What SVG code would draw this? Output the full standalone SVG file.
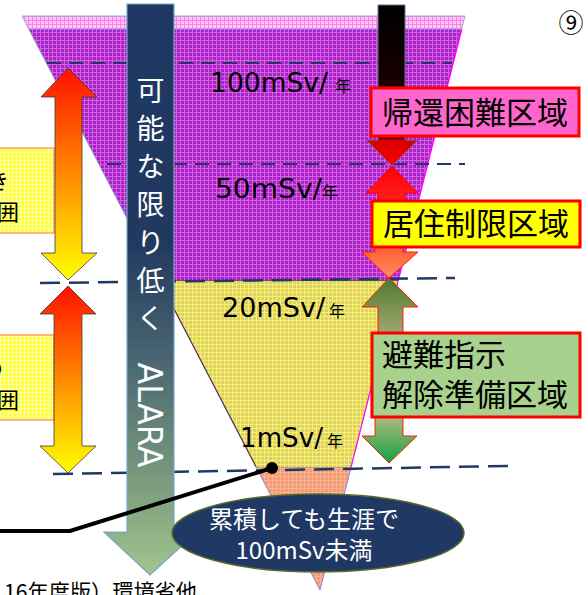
<svg xmlns="http://www.w3.org/2000/svg" width="588" height="595" viewBox="0 0 588 595">
<style>
.dash1{fill:none;stroke:#1f3864;stroke-width:2;stroke-dasharray:14 8}
.dash2{fill:none;stroke:#1f3864;stroke-width:2.5;stroke-dasharray:20 9}
.val{font-family:"DejaVu Sans",sans-serif;font-size:27px;fill:#000}
.yr{font-family:"Noto Sans CJK JP",sans-serif;font-size:16px;fill:#000}
.box{stroke:#ff0000;stroke-width:3}
.boxt{font-family:"Noto Sans CJK JP",sans-serif;font-size:31px;fill:#000}
.vt{font-family:"Noto Sans CJK JP",sans-serif;font-size:28px;fill:#fff;text-anchor:middle}
.ell{font-family:"Noto Sans CJK JP",sans-serif;font-size:24px;fill:#fff;text-anchor:middle}
.lt{font-family:"Noto Sans CJK JP",sans-serif;font-size:22px;fill:#000}
</style>
<defs>
<pattern id="pPurple" width="4" height="4" patternUnits="userSpaceOnUse"><rect width="4" height="4" fill="#aa22c8"/><path d="M0 .5H4M.5 0V4" stroke="#d260e2" stroke-width="1"/></pattern>
<pattern id="pPink" width="4" height="4" patternUnits="userSpaceOnUse"><rect width="4" height="4" fill="#ffc6f6"/><path d="M0 .5H4M.5 0V4" stroke="#ff7ee8" stroke-width="1"/></pattern>
<pattern id="pYellow" width="4" height="4" patternUnits="userSpaceOnUse"><rect width="4" height="4" fill="#dbcf70"/><path d="M0 .5H4M.5 0V4" stroke="#f8f260" stroke-width="1"/></pattern>
<pattern id="pOrange" width="4" height="4" patternUnits="userSpaceOnUse"><rect width="4" height="4" fill="#f39a73"/><path d="M0 .5H4M.5 0V4" stroke="#f7b595" stroke-width="1"/></pattern>
<pattern id="pBox" width="4" height="4" patternUnits="userSpaceOnUse"><rect width="4" height="4" fill="#ffff40"/><path d="M0 .5H4M.5 0V4" stroke="#ffffa8" stroke-width="1"/></pattern>
<linearGradient id="gUp1" gradientUnits="userSpaceOnUse" x1="0" y1="68" x2="0" y2="280"><stop offset="0" stop-color="#ff1000"/><stop offset="0.5" stop-color="#ff8a00"/><stop offset="1" stop-color="#ffff00"/></linearGradient>
<linearGradient id="gUp2" gradientUnits="userSpaceOnUse" x1="0" y1="286" x2="0" y2="473"><stop offset="0" stop-color="#ff1000"/><stop offset="0.5" stop-color="#ff8a00"/><stop offset="1" stop-color="#ffff00"/></linearGradient>
<linearGradient id="gBar" gradientUnits="userSpaceOnUse" x1="0" y1="4" x2="0" y2="575"><stop offset="0" stop-color="#1f3864"/><stop offset="0.42" stop-color="#21395f"/><stop offset="0.65" stop-color="#4f6d74"/><stop offset="0.85" stop-color="#7d9f7f"/><stop offset="1" stop-color="#a0c68c"/></linearGradient>
<linearGradient id="gBlack" gradientUnits="userSpaceOnUse" x1="0" y1="5" x2="0" y2="166"><stop offset="0" stop-color="#000"/><stop offset="0.45" stop-color="#160000"/><stop offset="0.83" stop-color="#7a0000"/><stop offset="0.84" stop-color="#d40000"/><stop offset="1" stop-color="#ff0000"/></linearGradient>
<linearGradient id="gRed" x1="0" y1="0" x2="0" y2="1"><stop offset="0" stop-color="#ff0000"/><stop offset="1" stop-color="#ff2020"/></linearGradient>
<linearGradient id="gSalmon" x1="0" y1="0" x2="0" y2="1"><stop offset="0" stop-color="#ff5a30"/><stop offset="1" stop-color="#ff8c64"/></linearGradient>
<linearGradient id="gGreenUp" x1="0" y1="0" x2="0" y2="1"><stop offset="0" stop-color="#4f7a2f"/><stop offset="1" stop-color="#a3a872"/></linearGradient>
<linearGradient id="gGreenDn" x1="0" y1="0" x2="0" y2="1"><stop offset="0" stop-color="#b8b880"/><stop offset="1" stop-color="#10a445"/></linearGradient>
</defs>

<rect width="588" height="595" fill="#fff"/>

<g id="pyramid">
<polygon points="256.1,467 351.1,467 320,590" fill="url(#pOrange)" stroke="#9a7fd0" stroke-width="1"/>
<polygon points="159,280 398.3,280 351.1,467 256.1,467" fill="url(#pYellow)"/>
<path d="M159,280 L256.1,467" stroke="#4a2a50" stroke-width="1.2" fill="none"/>
<path d="M398.3,280 L351.1,467" stroke="#ff00ff" stroke-width="1.2" fill="none"/>
<path d="M159,280 H398.3" stroke="#333" stroke-width="1.5" fill="none"/>
<polygon points="28.7,29 461.7,29 398.3,280 159,280" fill="url(#pPurple)"/>
<path d="M28.7,29 L159,280" stroke="#7f9fc8" stroke-width="1" fill="none"/>
<path d="M461.7,29 L398.3,280" stroke="#ff00ff" stroke-width="1.5" fill="none"/>
<polygon points="22,16 465,16 461.7,29 28.7,29" fill="url(#pPink)" stroke="#8eb4e3" stroke-width="1"/>
</g>

<g id="connectors">
<line class="dash1" x1="47" y1="63" x2="452" y2="63"/>
<line class="dash1" x1="107" y1="164" x2="465" y2="164"/>
<line class="dash2" x1="40" y1="283" x2="455" y2="278"/>
<line class="dash2" x1="53" y1="474" x2="508" y2="466"/>
</g>

<g id="levels">
<text class="val" x="210" y="92" textLength="118" lengthAdjust="spacingAndGlyphs">100mSv/</text><text class="yr" x="335" y="92">年</text>
<text class="val" x="215" y="198" textLength="107" lengthAdjust="spacingAndGlyphs">50mSv/</text><text class="yr" x="322" y="198">年</text>
<text class="val" x="222" y="317" textLength="103" lengthAdjust="spacingAndGlyphs">20mSv/</text><text class="yr" x="329" y="317">年</text>
<text class="val" x="240" y="447" textLength="83" lengthAdjust="spacingAndGlyphs">1mSv/</text><text class="yr" x="327" y="447">年</text>
</g>

<g id="left-boxes">
<rect x="-2" y="148" width="56" height="85" fill="url(#pBox)" stroke="#ff7040" stroke-width="1"/>
<text class="lt" x="-13" y="189">き</text>
<text class="lt" x="-3" y="220">囲</text>
<rect x="-2" y="335" width="56" height="85" fill="url(#pBox)" stroke="#ff7040" stroke-width="1"/>
<text class="lt" x="-19" y="376">の</text>
<text class="lt" x="-3" y="408">囲</text>
</g>

<g id="left-arrows">
<path d="M68,68 L97,97 H82 V253 H97 L68,280 L41,253 H55 V97 H41 Z" fill="url(#gUp1)" stroke="#3a3a3a" stroke-width="0.8"/>
<path d="M68,286 L96,314 H82 V446 H96 L68,473 L40,446 H54 V314 H40 Z" fill="url(#gUp2)" stroke="#3a3a3a" stroke-width="0.8"/>
</g>

<g id="alara">
<polygon points="127,4 174,4 174,532 197,532 150,575 104,532 127,532" fill="url(#gBar)" stroke="#7fa3c8" stroke-width="1.2"/>
<text class="vt" x="150.5" y="101">可</text>
<text class="vt" x="150.5" y="139">能</text>
<text class="vt" x="150.5" y="177">な</text>
<text class="vt" x="150.5" y="215">限</text>
<text class="vt" x="150.5" y="253">り</text>
<text class="vt" x="150.5" y="291">低</text>
<text class="vt" x="150.5" y="329">く</text>
<text transform="translate(138,415) rotate(90)" x="0" y="0" text-anchor="middle" font-family="DejaVu Sans, sans-serif" font-size="34" fill="#fff" textLength="105" lengthAdjust="spacingAndGlyphs">ALARA</text>
</g>

<g id="right-arrows">
<path d="M378,5 H405 V140 H418 L392,166 L366,140 H378 Z" fill="url(#gBlack)" stroke="#5f7594" stroke-width="1"/>
<path d="M392,166 L418,193 H405 V203 H378 V193 H366 Z" fill="url(#gRed)" stroke="#ff0000" stroke-width="1"/>
<path d="M375,245 H403 V252 H418 L389,278 L362,252 H375 Z" fill="url(#gSalmon)" stroke="#ff2000" stroke-width="1"/>
<path d="M389,278 L418,307 H403 V335 H378 V307 H362 Z" fill="url(#gGreenUp)" stroke="#ff2000" stroke-width="1"/>
<path d="M375,415 H403 V436 H417 L389,463 L362,436 H375 Z" fill="url(#gGreenDn)" stroke="#ff2000" stroke-width="1"/>
</g>

<g id="zone-kikan">
<rect class="box" x="371" y="88" width="208" height="48" fill="#ff66cc"/>
<text class="boxt" x="475" y="124" text-anchor="middle">帰還困難区域</text>
</g>
<g id="zone-kyoju">
<rect class="box" x="372" y="201" width="208" height="46" fill="#ffff00"/>
<text class="boxt" x="476" y="235" text-anchor="middle">居住制限区域</text>
</g>
<g id="zone-hinan">
<rect class="box" x="372" y="333" width="208" height="84" fill="#a9d18e"/>
<text class="boxt" x="382" y="366">避難指示</text>
<text class="boxt" x="382" y="406">解除準備区域</text>
</g>

<g id="lifetime">
<ellipse cx="318" cy="533" rx="146" ry="39" fill="#1f3864" stroke="#5a6a2a" stroke-width="1.5"/>
<text class="ell" x="304" y="528">累積しても生涯で</text>
<text class="ell" x="304" y="559">100mSv未満</text>
</g>

<g id="pointer">
<polyline points="272,468 70,531 -5,531" fill="none" stroke="#000" stroke-width="4"/>
<circle cx="272" cy="468" r="6" fill="#000"/>
</g>

<text x="571" y="32" text-anchor="middle" font-family="Noto Sans CJK JP, sans-serif" font-size="25" fill="#000">⑨</text>
<text x="4" y="600" font-family="Noto Sans CJK JP, sans-serif" font-size="22" fill="#000" textLength="193" lengthAdjust="spacingAndGlyphs">16年度版）環境省他</text>
</svg>
